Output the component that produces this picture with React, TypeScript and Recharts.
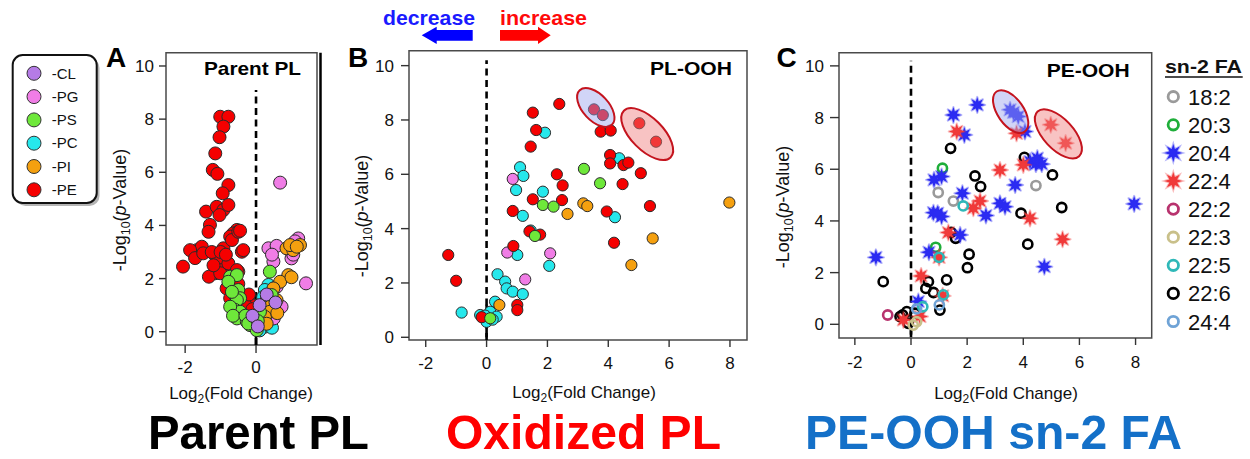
import React from 'react';
import { ScatterChart, Scatter, XAxis, YAxis, ReferenceLine, ReferenceArea, Label } from 'recharts';

const FONT = "'Liberation Sans', Arial, Helvetica, sans-serif";

// ---------- Panel A: Parent PL ----------
const aPE = [[-1.01,8.09],[-0.78,8.09],[-0.92,7.72],[-1.03,7.32],[-1.15,6.71],[-1.22,6.09],[-1.09,5.94],[-0.78,5.52],[-0.94,5.21],[-1.41,4.52],[-1.11,4.7],[-0.92,4.58],[-0.78,4.77],[-1.03,4.39],[-1.3,4.02],[-1.34,3.76],[-0.54,3.83],[-0.64,3.7],[-0.73,3.58],[-1.67,3.07],[-1.53,3.2],[-1.2,2.95],[-0.92,3.14],[-0.68,3.45],[-0.4,3.01],[-1.06,2.63],[-1.15,2.2],[-0.97,2.32],[-0.78,2.57],[-0.5,2.26],[-0.83,1.63],[-0.22,1.19],[-0.12,1.0],[-2.06,2.45],[-1.86,3.07],[-1.72,2.77],[-1.49,2.95],[-1.33,2.07],[-1.01,2.2],[-0.72,2.0],[-0.54,2.32],[-0.73,1.26],[-0.6,1.4],[-0.36,3.07],[-0.5,3.76],[-0.45,3.8],[-1.25,3.0],[-1.0,3.0],[-0.85,2.9],[-0.3,1.0],[-0.1,0.85],[-0.6,1.0],[-1.2,2.5],[-0.2,1.4],[-0.5,1.8]];
const aPC = [[0.35,1.76],[0.25,1.57],[0.16,0.31],[0.25,0.19],[0.3,0.7],[0.15,1.1],[0.4,0.4],[0.1,0.05],[0.2,1.3],[0.45,0.15]];
const aPG = [[0.68,5.61],[0.35,3.14],[0.58,3.23],[1.19,3.51],[1.0,2.76],[1.05,2.9],[1.41,1.82],[0.49,2.64],[0.72,0.94],[0.3,1.19],[0.58,1.69],[0.2,0.9],[0.5,0.5],[1.1,3.4],[0.45,2.9]];
const aPI = [[0.86,3.14],[1.05,3.07],[1.24,3.26],[0.96,3.26],[1.15,3.2],[0.91,2.13],[0.68,1.88],[0.49,1.63],[0.44,1.0],[0.39,0.75],[0.25,0.56],[0.58,1.19],[0.6,0.7],[0.3,0.3],[1.0,2.05]];
const aPS = [[-0.73,2.07],[-0.54,2.13],[-0.78,1.88],[-0.5,1.57],[-0.45,1.26],[-0.54,1.19],[-0.59,0.82],[-0.45,0.75],[-0.54,0.5],[-0.26,0.38],[-0.17,0.25],[0.02,0.06],[0.11,0.75],[0.39,2.26],[0.44,1.38],[-0.73,0.94],[-0.65,0.6],[-0.3,0.6],[-0.22,0.31],[-0.68,1.5],[0.05,0.4]];
const aCL = [[0.1,1.0],[0.3,1.4],[0.55,1.1],[-0.1,0.6],[0.05,0.2]];

// ---------- Panel B: PL-OOH ----------
const bPE = [[2.39,8.59],[1.52,8.27],[1.63,7.63],[1.45,7.02],[3.53,8.39],[3.82,8.18],[3.75,7.57],[4.08,7.61],[5.02,7.88],[5.57,7.2],[4.06,6.71],[4.06,6.4],[4.5,6.34],[4.66,6.43],[5.07,6.04],[4.47,5.64],[2.31,6.0],[2.5,5.59],[2.48,5.05],[1.52,5.08],[3.95,4.63],[5.37,4.83],[4.19,3.48],[0.86,4.65],[1.41,3.9],[1.76,3.78],[0.88,3.36],[-1.26,3.03],[-1.0,2.08],[1.01,1.19],[1.01,1.0],[-0.16,0.74]];
const bPC = [[1.92,7.53],[1.1,6.26],[1.21,5.94],[0.97,5.42],[1.85,5.36],[1.19,4.47],[1.45,3.93],[1.01,3.03],[2.06,2.63],[0.36,2.32],[0.61,2.05],[0.66,1.8],[0.86,1.68],[1.19,1.59],[-0.82,0.91],[-0.21,0.82],[0.12,0.94],[0.33,0.76],[0.0,0.57],[0.28,1.31],[4.36,6.59],[4.22,4.42],[-0.05,0.8],[0.2,0.65]];
const bPS = [[3.2,6.2],[3.73,5.67],[1.85,4.87],[2.2,4.81],[1.59,3.73],[0.12,0.7]];
const bPG = [[0.86,5.83],[0.68,3.12],[2.09,3.09],[1.27,2.13]];
const bPI = [[3.18,4.93],[3.31,4.83],[2.66,4.54],[4.76,2.66],[5.46,3.64],[7.98,4.96],[0.42,1.19]];
const bBlueOval = [[3.59,8.46]];
const bRedOval = [[5.28,7.48]];

// ---------- Panel C: PE-OOH sn-2 FA ----------
const c182 = [[0.97,5.1],[1.51,4.77],[4.45,5.37]];
const c203 = [[1.12,6.04],[0.88,2.98]];
const c204 = [[2.36,8.49],[1.51,8.1],[1.9,7.33],[3.53,8.3],[3.82,8.04],[3.65,8.2],[4.06,7.46],[4.24,6.3],[4.45,6.2],[4.66,6.2],[4.5,6.43],[3.71,5.39],[0.82,5.59],[1.09,5.72],[1.83,5.07],[0.8,4.32],[1.09,4.17],[3.17,4.68],[3.35,4.55],[2.67,4.21],[1.75,3.46],[0.64,2.79],[-1.25,2.59],[4.75,2.23],[7.95,4.66],[0.26,0.88],[0.95,4.3]];
const c224 = [[1.63,7.46],[3.76,7.39],[4.98,7.72],[5.51,7.01],[3.17,5.97],[4.0,6.17],[2.22,4.49],[2.46,4.77],[4.24,4.1],[5.4,3.29],[1.33,3.55],[0.36,1.87],[1.0,2.59],[1.13,1.1],[0.32,0.3],[-0.27,0.17]];
const c222 = [[-0.83,0.36]];
const c223 = [[0.08,-0.03],[0.2,0.1]];
const c225 = [[1.86,4.58],[1.0,2.59],[1.15,1.14],[0.42,0.68]];
const c226 = [[1.41,6.81],[4.04,6.46],[5.04,5.78],[2.28,5.74],[2.48,5.33],[3.92,4.3],[5.37,4.52],[4.16,3.1],[1.43,3.56],[1.59,3.33],[2.07,2.71],[2.01,2.19],[-0.99,1.65],[0.62,1.65],[1.27,1.72],[0.53,1.39],[0.8,1.23],[1.03,0.55],[-0.39,0.3],[-0.15,0.49],[0.14,0.43],[-0.1,0.04],[-0.3,0.36]];
const c244 = [[1.01,0.75],[0.2,0.6]];
const cBlueOval = [[3.55,8.23]];
const cRedOval = [[5.25,7.37]];

// ---------- ticks & labels ----------
const yTicks = [0, 2, 4, 6, 8, 10];
const aXTicks = [-2, 0];
const bcXTicks = [-2, 0, 2, 4, 6, 8];
const legendALabels = ['-CL', '-PG', '-PS', '-PC', '-PI', '-PE'];
const legendAColors = ['#b57be6', '#f07de6', '#6ee83a', '#26e8ec', '#f5a00f', '#f50000'];
const legendCLabels = ['18:2', '20:3', '20:4', '22:4', '22:2', '22:3', '22:5', '22:6', '24:4'];
const legendCColors = ['#9a9a9a', '#1fae3a', '#2b2bf2', '#f03a3a', '#b8336e', '#c9c08a', '#2fb8b8', '#000000', '#6fa3d6'];
const legendCStar = [false, false, true, true, false, false, false, false, false];

const COL = { CL: '#b57be6', PG: '#f07de6', PS: '#6ee83a', PC: '#26e8ec', PI: '#f5a00f', PE: '#f50000' };

const toPts = (a: number[][]) => a.map(([x, y]) => ({ x, y }));

const dot = (fill: string, r: number) => (p: any) =>
  p.cx == null ? <g /> : <circle cx={p.cx} cy={p.cy} r={r} fill={fill} stroke="#2a2a2a" strokeWidth={1} />;

const ring = (color: string, r = 4.6, w = 2.6) => (p: any) =>
  p.cx == null ? <g /> : <circle cx={p.cx} cy={p.cy} r={r} fill="none" stroke={color} strokeWidth={w} />;

function starPts(cx: number, cy: number, ro: number, ri: number, n: number) {
  const out: string[] = [];
  for (let i = 0; i < 2 * n; i++) {
    const r = i % 2 === 0 ? ro : ri;
    const a = (Math.PI * i) / n - Math.PI / 2;
    out.push(`${(cx + r * Math.cos(a)).toFixed(2)},${(cy + r * Math.sin(a)).toFixed(2)}`);
  }
  return out.join(' ');
}
const star = (color: string, ro = 8, ri = 3.8) => (p: any) =>
  p.cx == null ? <g /> : (
    <polygon points={starPts(p.cx, p.cy, ro, ri, 8)} fill={color} stroke={color} strokeOpacity={0.35} strokeWidth={2} strokeLinejoin="round" />
  );

const oval = (rx: number, ry: number, angle: number, fill: string, op: number) => (p: any) =>
  p.cx == null ? <g /> : (
    <ellipse cx={p.cx} cy={p.cy} rx={rx} ry={ry} transform={`rotate(${angle} ${p.cx} ${p.cy})`} fill={fill} fillOpacity={op} stroke="#c4141e" strokeWidth={2} />
  );

function XTitle({ x, y }: { x: number; y: number }) {
  return (
    <text x={x} y={y} textAnchor="middle" fontSize={17} fontFamily={FONT} fill="#111">
      Log<tspan fontSize={12} dy={4}>2</tspan><tspan dy={-4}>(Fold Change)</tspan>
    </text>
  );
}
function YTitle({ x, y }: { x: number; y: number }) {
  return (
    <text transform={`translate(${x},${y}) rotate(-90)`} y={6} textAnchor="middle" fontSize={18} fontFamily={FONT} fill="#111">
      -Log<tspan fontSize={12.5} dy={4}>10</tspan><tspan dy={-4}>(</tspan><tspan fontStyle="italic">p</tspan><tspan>-Value)</tspan>
    </text>
  );
}

type PanelProps = {
  left: number; width: number; height: number;
  margin: { top: number; right: number; bottom: number; left: number };
  xDomain: [number, number]; yDomain: [number, number];
  xTicks: number[];
  xTickSize: number; xTickMargin: number; yTickSize: number; yTickMargin: number;
  xTitle: { x: number; y: number }; yTitle: { x: number; y: number };
  zero: [number, number]; zeroSolid: [number, number];
  children?: React.ReactNode;
};

function Panel(p: PanelProps) {
  return (
    <div style={{ position: 'absolute', left: p.left, top: 0 }}>
      <ScatterChart width={p.width} height={p.height} margin={p.margin}>
        <XAxis type="number" dataKey="x" domain={p.xDomain} ticks={p.xTicks} allowDataOverflow interval={0}
          axisLine={false} tickLine={{ stroke: '#333', strokeWidth: 1.4 }} tickSize={p.xTickSize} tickMargin={p.xTickMargin}
          tick={{ fontSize: 17, fill: '#111', fontFamily: FONT }} height={60}>
          <Label content={() => <XTitle x={p.xTitle.x} y={p.xTitle.y} />} />
        </XAxis>
        <YAxis type="number" dataKey="y" domain={p.yDomain} ticks={yTicks} allowDataOverflow interval={0} width={40}
          axisLine={false} tickLine={{ stroke: '#333', strokeWidth: 1.4 }} tickSize={p.yTickSize} tickMargin={p.yTickMargin}
          tick={{ fontSize: 17, fill: '#111', fontFamily: FONT }}>
          <Label content={() => <YTitle x={p.yTitle.x} y={p.yTitle.y} />} />
        </YAxis>
        <ReferenceArea x1={p.xDomain[0]} x2={p.xDomain[1]} y1={p.yDomain[0]} y2={p.yDomain[1]} fill="none" stroke="#4a4a4a" strokeWidth={1.5} ifOverflow="visible" />
        <ReferenceLine segment={[{ x: 0, y: p.zero[0] }, { x: 0, y: p.zero[1] }]} stroke="#000" strokeWidth={2.6} strokeDasharray="7 4.5" ifOverflow="visible" />
        <ReferenceLine segment={[{ x: 0, y: p.zeroSolid[0] }, { x: 0, y: p.zeroSolid[1] }]} stroke="#000" strokeWidth={2.6} ifOverflow="visible" />
        {p.children}
      </ScatterChart>
    </div>
  );
}

function Overlay() {
  return (
    <svg width={1250} height={459} style={{ position: 'absolute', left: 0, top: 0, pointerEvents: 'none' }} fontFamily={FONT}>
      {/* legend A */}
      <rect x={15.5} y={58} width={84} height={148} rx={10} fill="#b5b5b5" />
      <rect x={12.7} y={55} width={84} height={148} rx={10} fill="#fff" stroke="#111" strokeWidth={2} />
      {legendALabels.map((t, i) => (
        <g key={t}>
          <circle cx={34} cy={73.3 + 23.3 * i} r={7} fill={legendAColors[i]} stroke="#333" strokeWidth={1} />
          <text x={51.7} y={78.5 + 23.3 * i} fontSize={15} fill="#111">{t}</text>
        </g>
      ))}
      {/* panel letters */}
      <text x={106} y={66.7} fontSize={28} fontWeight="bold" fill="#000">A</text>
      <text x={348} y={66.7} fontSize={28} fontWeight="bold" fill="#000">B</text>
      <text x={776.5} y={66.7} fontSize={28} fontWeight="bold" fill="#000">C</text>
      {/* panel titles */}
      <text x={204} y={75} fontSize={19} fontWeight="bold" fill="#000" textLength={97} lengthAdjust="spacingAndGlyphs">Parent PL</text>
      <text x={650} y={75} fontSize={19} fontWeight="bold" fill="#000" textLength={82} lengthAdjust="spacingAndGlyphs">PL-OOH</text>
      <text x={1046.7} y={76.7} fontSize={19} fontWeight="bold" fill="#000" textLength={83} lengthAdjust="spacingAndGlyphs">PE-OOH</text>
      {/* thick right edge of panel A */}
      <line x1={320.5} y1={52.7} x2={320.5} y2={345} stroke="#000" strokeWidth={2.5} />
      {/* decrease / increase */}
      <text x={383} y={25} fontSize={21} fontWeight="bold" fill="#1a1aff" textLength={92} lengthAdjust="spacingAndGlyphs">decrease</text>
      <text x={500} y={25} fontSize={21} fontWeight="bold" fill="#ff0a0a" textLength={87} lengthAdjust="spacingAndGlyphs">increase</text>
      <polygon points="421.7,35.3 436.7,26.7 436.7,30 472.7,30 472.7,40.7 436.7,40.7 436.7,44" fill="#0000ff" />
      <polygon points="550.7,35.3 538,26.7 538,30 500,30 500,40.7 538,40.7 538,44" fill="#ff0000" />
      {/* legend C */}
      <text x={1165} y={73.3} fontSize={19} fontWeight="bold" fill="#111" textLength={77} lengthAdjust="spacingAndGlyphs">sn-2 FA</text>
      <line x1={1165} y1={77} x2={1242.7} y2={77} stroke="#111" strokeWidth={1.5} />
      {legendCLabels.map((t, i) => {
        const cy = 96.7 + 28.1 * i;
        return (
          <g key={t}>
            {legendCStar[i]
              ? <polygon points={starPts(1173.3, cy, 9, 4.2, 8)} fill={legendCColors[i]} stroke={legendCColors[i]} strokeOpacity={0.35} strokeWidth={2} />
              : <circle cx={1173.3} cy={cy} r={5.2} fill="none" stroke={legendCColors[i]} strokeWidth={2.8} />}
            <text x={1188} y={cy + 8} fontSize={22} fill="#111">{t}</text>
          </g>
        );
      })}
      {/* bottom titles */}
      <text x={148} y={448.5} fontSize={49} fontWeight="bold" fill="#000" textLength={221} lengthAdjust="spacingAndGlyphs">Parent PL</text>
      <text x={446} y={448.5} fontSize={49} fontWeight="bold" fill="#ff0000" textLength={275} lengthAdjust="spacingAndGlyphs">Oxidized PL</text>
      <text x={805} y={448.5} fontSize={49} fontWeight="bold" fill="#1470c8" textLength={377} lengthAdjust="spacingAndGlyphs">PE-OOH sn-2 FA</text>
    </svg>
  );
}

export default function App() {
  return (
    <div style={{ position: 'absolute', left: 0, top: 0, width: 1250, height: 459, background: '#fff', overflow: 'hidden', fontFamily: FONT }}>
      <Panel left={0} width={330} height={420} margin={{ top: 52.7, right: 13, bottom: 15, left: 126 }}
        xDomain={[-2.54, 1.72]} yDomain={[-0.5, 10.5]} xTicks={aXTicks}
        xTickSize={8} xTickMargin={8} yTickSize={7} yTickMargin={5}
        xTitle={{ x: 241, y: 399 }} yTitle={{ x: 120, y: 210 }} zero={[-0.5, 9.1]} zeroSolid={[-0.5, 0.45]}>
        <Scatter data={toPts(aPE)} shape={dot(COL.PE, 6.5)} isAnimationActive={false} />
        <Scatter data={toPts(aPC)} shape={dot(COL.PC, 6.5)} isAnimationActive={false} />
        <Scatter data={toPts(aPG)} shape={dot(COL.PG, 6.5)} isAnimationActive={false} />
        <Scatter data={toPts(aPI)} shape={dot(COL.PI, 6.5)} isAnimationActive={false} />
        <Scatter data={toPts(aPS)} shape={dot(COL.PS, 6.5)} isAnimationActive={false} />
        <Scatter data={toPts(aCL)} shape={dot(COL.CL, 6.5)} isAnimationActive={false} />
      </Panel>
      <Panel left={330} width={430} height={420} margin={{ top: 50.7, right: 13, bottom: 20, left: 39 }}
        xDomain={[-2.55, 8.56]} yDomain={[-0.1, 10.55]} xTicks={bcXTicks}
        xTickSize={7} xTickMargin={10} yTickSize={8} yTickMargin={7}
        xTitle={{ x: 254, y: 398 }} yTitle={{ x: 31.7, y: 216 }} zero={[-0.1, 10.2]} zeroSolid={[0, 1.2]}>
        <Scatter data={toPts(bPC)} shape={dot(COL.PC, 5.6)} isAnimationActive={false} />
        <Scatter data={toPts(bPG)} shape={dot(COL.PG, 5.6)} isAnimationActive={false} />
        <Scatter data={toPts(bPE)} shape={dot(COL.PE, 5.6)} isAnimationActive={false} />
        <Scatter data={toPts(bPS)} shape={dot(COL.PS, 5.6)} isAnimationActive={false} />
        <Scatter data={toPts(bPI)} shape={dot(COL.PI, 5.6)} isAnimationActive={false} />
        <Scatter data={toPts(bBlueOval)} shape={oval(23.6, 13, 47, '#9aa2ee', 0.45)} isAnimationActive={false} />
        <Scatter data={toPts(bRedOval)} shape={oval(33, 16, 45, '#f07a7a', 0.45)} isAnimationActive={false} />
      </Panel>
      <Panel left={760} width={405} height={420} margin={{ top: 52.7, right: 13.3, bottom: 22, left: 39 }}
        xDomain={[-2.565, 8.575]} yDomain={[-0.53, 10.51]} xTicks={bcXTicks}
        xTickSize={7} xTickMargin={11} yTickSize={9} yTickMargin={6}
        xTitle={{ x: 246, y: 399 }} yTitle={{ x: 23, y: 207 }} zero={[-0.5, 10.2]} zeroSolid={[-0.4, 0.3]}>
        <Scatter data={toPts(c182)} shape={ring('#9a9a9a')} isAnimationActive={false} />
        <Scatter data={toPts(c203)} shape={ring('#1fae3a')} isAnimationActive={false} />
        <Scatter data={toPts(c226)} shape={ring('#000000')} isAnimationActive={false} />
        <Scatter data={toPts(c204)} shape={star('#2b2bf2')} isAnimationActive={false} />
        <Scatter data={toPts(c224)} shape={star('#f03a3a')} isAnimationActive={false} />
        <Scatter data={toPts(c222)} shape={ring('#b8336e')} isAnimationActive={false} />
        <Scatter data={toPts(c223)} shape={ring('#c9c08a')} isAnimationActive={false} />
        <Scatter data={toPts(c225)} shape={ring('#2fb8b8')} isAnimationActive={false} />
        <Scatter data={toPts(c244)} shape={ring('#6fa3d6')} isAnimationActive={false} />
        <Scatter data={toPts(cBlueOval)} shape={oval(24.5, 13, 55, '#9aa2ee', 0.45)} isAnimationActive={false} />
        <Scatter data={toPts(cRedOval)} shape={oval(30.5, 15, 47, '#f07a7a', 0.45)} isAnimationActive={false} />
      </Panel>
      <Overlay />
    </div>
  );
}
